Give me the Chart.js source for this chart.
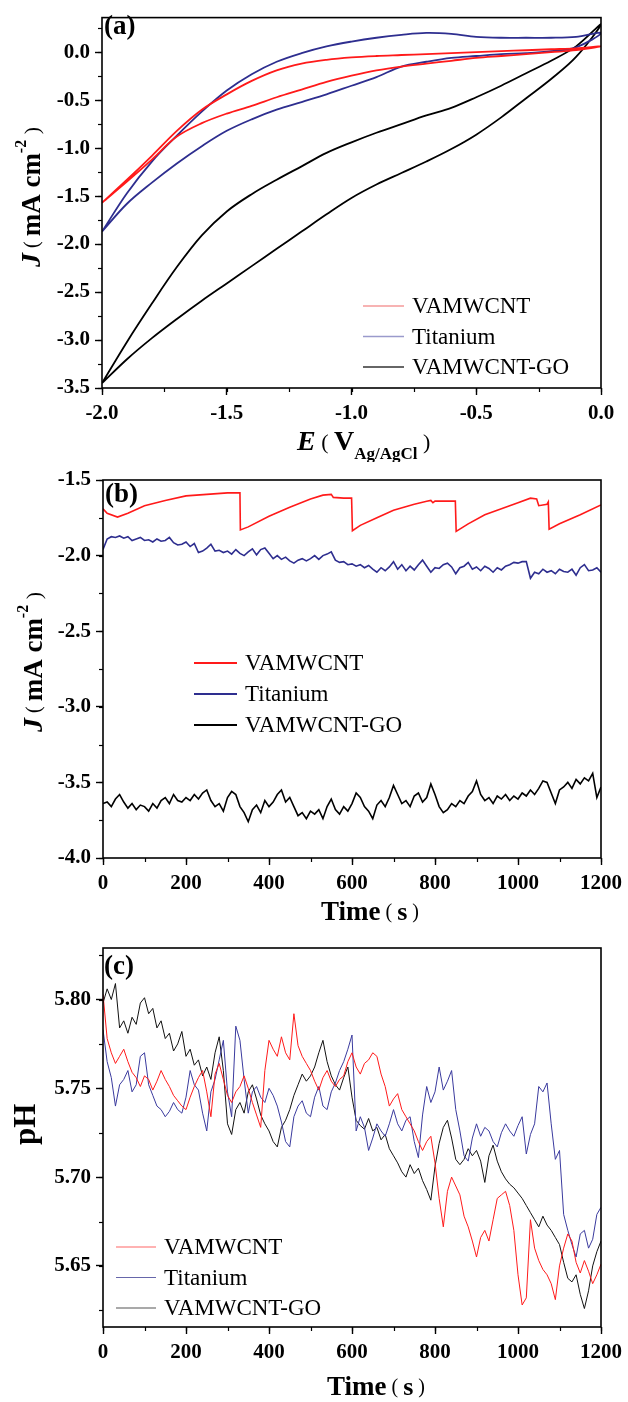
<!DOCTYPE html>
<html>
<head>
<meta charset="utf-8">
<script src="https://cdn.jsdelivr.net/npm/chart.js@4.4.0/dist/chart.umd.min.js"></script>
<style>
  body { margin: 0; background: #fff; }
  #wrap { position: relative; width: 628px; height: 1402px; }
  canvas { position: absolute; left: 0; }
</style>
</head>
<body>
<div id="wrap">
  <canvas id="cvChart" width="628" height="462" style="top:0px"></canvas>
  <canvas id="stabChart" width="628" height="463" style="top:462px"></canvas>
  <canvas id="phChart" width="628" height="477" style="top:925px"></canvas>
</div>
<script>
// ---- panel (a): cyclic voltammetry, J vs E ----
const seriesNames = ["VAMWCNT", "Titanium", "VAMWCNT-GO"];

const potential = [-2.0, -1.9, -1.8, -1.7, -1.6, -1.5, -1.4, -1.3, -1.2, -1.1, -1.0,
  -0.9, -0.8, -0.7, -0.6, -0.5, -0.4, -0.3, -0.2, -0.1, 0.0];

const cvRedUpper = [-1.57, -1.33, -1.08, -0.82, -0.60, -0.44, -0.30, -0.19, -0.12, -0.08, -0.055,
  -0.04, -0.03, -0.02, -0.01, 0.0, 0.01, 0.02, 0.03, 0.04, 0.06];
const cvRedLower = [-1.57, -1.35, -1.12, -0.88, -0.74, -0.64, -0.56, -0.47, -0.39, -0.31, -0.245,
  -0.19, -0.15, -0.12, -0.09, -0.06, -0.04, -0.02, 0.0, 0.02, 0.04];
const cvBlueUpper = [-1.87, -1.47, -1.14, -0.87, -0.62, -0.40, -0.23, -0.10, -0.01, 0.06, 0.11,
  0.15, 0.18, 0.20, 0.19, 0.16, 0.15, 0.15, 0.15, 0.16, 0.20];
const cvBlueLower = [-1.87, -1.58, -1.36, -1.16, -0.98, -0.82, -0.70, -0.60, -0.52, -0.44, -0.35,
  -0.26, -0.15, -0.10, -0.06, -0.04, -0.02, -0.01, 0.01, 0.05, 0.20];
const cvGoUpper = [-3.45, -3.02, -2.62, -2.24, -1.91, -1.66, -1.48, -1.33, -1.19, -1.05, -0.94,
  -0.84, -0.75, -0.66, -0.58, -0.47, -0.35, -0.22, -0.09, 0.06, 0.29];
const cvGoLower = [-3.45, -3.20, -2.98, -2.78, -2.59, -2.41, -2.23, -2.05, -1.87, -1.69, -1.52,
  -1.38, -1.26, -1.14, -1.01, -0.86, -0.68, -0.48, -0.28, -0.05, 0.29];

// ---- panel (b): current stability, J vs time ----
const stabRedTime = [0, 10, 35, 60, 100, 150, 200, 250, 300, 330, 331, 350, 400, 450, 500, 530, 550, 555, 580, 599,
  601, 620, 660, 700, 750, 780, 790, 795, 800, 849, 851, 880, 920, 960, 1000, 1030, 1045, 1050, 1070, 1073,
  1075, 1100, 1150, 1200];
const stabRedJ = [-1.69, -1.72, -1.745, -1.72, -1.67, -1.635, -1.605, -1.595, -1.585, -1.585, -1.83, -1.81, -1.74, -1.68, -1.625, -1.60, -1.595, -1.615, -1.62, -1.62,
  -1.835, -1.80, -1.75, -1.70, -1.66, -1.64, -1.635, -1.65, -1.64, -1.64, -1.84, -1.79, -1.73, -1.69, -1.65, -1.62, -1.625, -1.67, -1.66, -1.645,
  -1.825, -1.79, -1.73, -1.665];

const sampleTime = [0, 10, 20, 30, 40, 50, 60, 70, 80, 90,
  100, 110, 120, 130, 140, 150, 160, 170, 180, 190,
  200, 210, 220, 230, 240, 250, 260, 270, 280, 290,
  300, 310, 320, 330, 340, 350, 360, 370, 380, 390,
  400, 410, 420, 430, 440, 450, 460, 470, 480, 490,
  500, 510, 520, 530, 540, 550, 560, 570, 580, 590,
  600, 610, 620, 630, 640, 650, 660, 670, 680, 690,
  700, 710, 720, 730, 740, 750, 760, 770, 780, 790,
  800, 810, 820, 830, 840, 850, 860, 870, 880, 890,
  900, 910, 920, 930, 940, 950, 960, 970, 980, 990,
  1000, 1010, 1020, 1030, 1040, 1050, 1060, 1070, 1080, 1090,
  1100, 1110, 1120, 1130, 1140, 1150, 1160, 1170, 1180, 1190,
  1200];

const stabBlueJ = [-1.96, -1.89, -1.875, -1.88, -1.87, -1.885, -1.875, -1.9, -1.89, -1.88,
  -1.9, -1.895, -1.91, -1.89, -1.905, -1.9, -1.88, -1.915, -1.93, -1.925,
  -1.91, -1.94, -1.92, -1.98, -1.97, -1.95, -1.925, -1.97, -1.965, -1.98,
  -1.97, -1.99, -1.96, -1.985, -2.0, -1.975, -1.955, -1.995, -1.96, -1.95,
  -1.985, -2.02, -2.0, -2.025, -2.01, -2.035, -2.05, -2.03, -2.02, -2.035,
  -2.02, -2.0, -2.025, -2.0, -1.99, -1.975, -2.03, -2.045, -2.04, -2.06,
  -2.055, -2.07, -2.06, -2.08, -2.065, -2.09, -2.11, -2.08, -2.1, -2.075,
  -2.04, -2.09, -2.06, -2.1, -2.07, -2.095, -2.06, -2.03, -2.07, -2.11,
  -2.08, -2.085, -2.06, -2.05, -2.075, -2.12, -2.08, -2.07, -2.045, -2.09,
  -2.075, -2.1, -2.07, -2.085, -2.11, -2.08, -2.095, -2.07, -2.06, -2.045,
  -2.05, -2.04, -2.04, -2.15, -2.11, -2.12, -2.09, -2.11, -2.1, -2.12,
  -2.09, -2.105, -2.11, -2.09, -2.13, -2.08, -2.06, -2.1, -2.095, -2.08,
  -2.11];

const stabBlackJ = [-3.64, -3.63, -3.66, -3.61, -3.58, -3.63, -3.67, -3.64, -3.68, -3.65,
  -3.66, -3.69, -3.64, -3.67, -3.62, -3.60, -3.64, -3.58, -3.62, -3.63,
  -3.60, -3.62, -3.58, -3.61, -3.57, -3.55, -3.62, -3.66, -3.64, -3.69,
  -3.60, -3.56, -3.58, -3.66, -3.70, -3.76, -3.68, -3.65, -3.70, -3.62,
  -3.66, -3.63, -3.58, -3.55, -3.63, -3.60, -3.66, -3.72, -3.70, -3.74,
  -3.69, -3.71, -3.68, -3.74, -3.66, -3.61, -3.68, -3.71, -3.66, -3.69,
  -3.64, -3.57, -3.60, -3.66, -3.69, -3.74, -3.65, -3.62, -3.66, -3.60,
  -3.52, -3.58, -3.64, -3.62, -3.66, -3.59, -3.57, -3.63, -3.60, -3.51,
  -3.58, -3.66, -3.70, -3.68, -3.64, -3.66, -3.62, -3.64, -3.59, -3.56,
  -3.49, -3.58, -3.62, -3.60, -3.64, -3.59, -3.61, -3.58, -3.62, -3.59,
  -3.61, -3.57, -3.59, -3.55, -3.58, -3.54, -3.49, -3.50, -3.57, -3.64,
  -3.55, -3.53, -3.50, -3.54, -3.48, -3.51, -3.47, -3.49, -3.44, -3.60,
  -3.53];

// ---- panel (c): pH vs time ----
const phRed = [5.803, 5.778, 5.770, 5.764, 5.768, 5.772, 5.765, 5.759, 5.756, 5.751,
  5.757, 5.755, 5.749, 5.754, 5.760, 5.755, 5.751, 5.746, 5.743, 5.740,
  5.738, 5.745, 5.751, 5.756, 5.760, 5.748, 5.734, 5.758, 5.764, 5.755,
  5.746, 5.742, 5.748, 5.751, 5.757, 5.750, 5.742, 5.735, 5.728, 5.760,
  5.777, 5.772, 5.768, 5.779, 5.770, 5.766, 5.792, 5.774, 5.768, 5.764,
  5.760, 5.754, 5.749, 5.756, 5.760, 5.754, 5.751, 5.755, 5.757, 5.765,
  5.770, 5.762, 5.758, 5.764, 5.766, 5.770, 5.768, 5.758, 5.751, 5.740,
  5.744, 5.747, 5.738, 5.734, 5.730, 5.726, 5.720, 5.715, 5.720, 5.723,
  5.708, 5.688, 5.672, 5.692, 5.700, 5.695, 5.690, 5.678, 5.672, 5.664,
  5.655, 5.666, 5.670, 5.664, 5.676, 5.688, 5.690, 5.692, 5.684, 5.670,
  5.645, 5.628, 5.632, 5.676, 5.660, 5.653, 5.648, 5.645, 5.640, 5.631,
  5.650, 5.660, 5.668, 5.664, 5.652, 5.646, 5.653, 5.647, 5.640, 5.645,
  5.651];

const phBlue = [5.783, 5.765, 5.756, 5.740, 5.752, 5.755, 5.760, 5.748, 5.752, 5.768,
  5.770, 5.752, 5.746, 5.740, 5.738, 5.734, 5.737, 5.742, 5.738, 5.736,
  5.745, 5.760, 5.752, 5.749, 5.736, 5.726, 5.748, 5.755, 5.766, 5.777,
  5.748, 5.734, 5.785, 5.777, 5.755, 5.736, 5.748, 5.751, 5.745, 5.742,
  5.750, 5.746, 5.740, 5.731, 5.720, 5.717, 5.734, 5.740, 5.743, 5.736,
  5.734, 5.745, 5.751, 5.740, 5.738, 5.748, 5.753, 5.760, 5.765, 5.772,
  5.780, 5.726, 5.734, 5.728, 5.715, 5.722, 5.730, 5.726, 5.723, 5.730,
  5.738, 5.730, 5.726, 5.732, 5.734, 5.720, 5.711, 5.735, 5.751, 5.742,
  5.748, 5.762, 5.749, 5.754, 5.760, 5.738, 5.726, 5.712, 5.709, 5.722,
  5.730, 5.723, 5.728, 5.726, 5.720, 5.717, 5.725, 5.730, 5.726, 5.723,
  5.729, 5.734, 5.713, 5.724, 5.730, 5.751, 5.748, 5.753, 5.730, 5.710,
  5.715, 5.679, 5.670, 5.662, 5.655, 5.668, 5.670, 5.660, 5.665, 5.679,
  5.683];

const phBlack = [5.798, 5.806, 5.800, 5.809, 5.784, 5.788, 5.781, 5.790, 5.786, 5.798,
  5.801, 5.792, 5.795, 5.784, 5.788, 5.778, 5.781, 5.771, 5.775, 5.782,
  5.768, 5.772, 5.763, 5.766, 5.757, 5.762, 5.755, 5.770, 5.779, 5.760,
  5.730, 5.724, 5.738, 5.742, 5.736, 5.748, 5.752, 5.744, 5.735, 5.730,
  5.726, 5.720, 5.717, 5.728, 5.732, 5.738, 5.746, 5.752, 5.758, 5.754,
  5.757, 5.762, 5.770, 5.777, 5.765, 5.757, 5.752, 5.749, 5.756, 5.762,
  5.745, 5.732, 5.729, 5.727, 5.733, 5.726, 5.728, 5.721, 5.724, 5.716,
  5.712, 5.708, 5.703, 5.700, 5.707, 5.702, 5.705, 5.698, 5.693, 5.687,
  5.706, 5.719, 5.728, 5.732, 5.722, 5.710, 5.707, 5.710, 5.716, 5.712,
  5.715, 5.709, 5.697, 5.712, 5.718, 5.709, 5.703, 5.699, 5.696, 5.694,
  5.691, 5.688, 5.684, 5.680, 5.676, 5.672, 5.678, 5.673, 5.670, 5.666,
  5.662, 5.652, 5.643, 5.641, 5.645, 5.634, 5.626, 5.636, 5.650, 5.658,
  5.664];

const RED = "#ff1a1a";
const NAVY = "#2e2e8f";
const SERIF = '"Liberation Serif", "Times New Roman", serif';

// pair x and y arrays into points
function toPoints(xs, ys) {
  return xs.map((x, i) => ({ x: x, y: ys[i] }));
}

// a closed CV loop: forward along the upper branch, back along the lower one
function cvLoop(upper, lower) {
  const fwd = toPoints(potential, upper);
  const back = toPoints(potential, lower).reverse();
  return fwd.concat(back.slice(1));
}

// draw a run of text pieces with different fonts, optionally rotated
function drawRich(ctx, item) {
  ctx.save();
  ctx.translate(item.x, item.y);
  if (item.rotate) ctx.rotate(-Math.PI / 2);
  ctx.fillStyle = "#000";
  ctx.textBaseline = "middle";
  let pos = 0;
  item.parts.forEach(p => {
    ctx.font = p.font;
    ctx.fillText(p.text, pos, p.dy || 0);
    pos += ctx.measureText(p.text).width;
  });
  ctx.restore();
}

function framePlugin(minor) {
  return {
    id: "frame",
    afterDraw(chart) {
      const ctx = chart.ctx;
      const a = chart.chartArea;
      ctx.save();
      ctx.strokeStyle = "#000";
      ctx.lineWidth = 1.2;
      // minor ticks between the labelled ones
      const xs = chart.scales.x;
      const ys = chart.scales.y;
      for (let v = xs.min; v <= xs.max + 1e-9; v += minor.x) {
        const px = Math.round(xs.getPixelForValue(v)) + 0.5;
        ctx.beginPath();
        ctx.moveTo(px, a.bottom);
        ctx.lineTo(px, a.bottom + 4);
        ctx.stroke();
      }
      for (let v = minor.yStart; v <= ys.max + 1e-9; v += minor.y) {
        if (v < ys.min - 1e-9) continue;
        const py = Math.round(ys.getPixelForValue(v)) + 0.5;
        ctx.beginPath();
        ctx.moveTo(a.left - 4, py);
        ctx.lineTo(a.left, py);
        ctx.stroke();
      }
      ctx.lineWidth = 1.6;
      ctx.strokeRect(a.left, a.top, a.right - a.left, a.bottom - a.top);
      ctx.restore();
    }
  };
}

function legendPlugin(cfg) {
  return {
    id: "panelLegend",
    afterDraw(chart) {
      const ctx = chart.ctx;
      ctx.save();
      ctx.font = "23px " + SERIF;
      ctx.textBaseline = "middle";
      chart.data.datasets.forEach((ds, i) => {
        const y = cfg.y + i * cfg.gap;
        ctx.strokeStyle = cfg.colors[i];
        ctx.lineWidth = cfg.width;
        ctx.beginPath();
        ctx.moveTo(cfg.x, y);
        ctx.lineTo(cfg.x + cfg.len, y);
        ctx.stroke();
        ctx.fillStyle = "#000";
        ctx.fillText(ds.label, cfg.x + cfg.len + 8, y + 1);
      });
      ctx.restore();
    }
  };
}

function textPlugin(items) {
  return {
    id: "panelText",
    afterDraw(chart) {
      items.forEach(item => drawRich(chart.ctx, item));
    }
  };
}

function axis(min, max, step, digits, isX, size) {
  return {
    type: "linear",
    min: min,
    max: max,
    afterFit: scale => {
      if (isX) scale.height = size;
      else scale.width = size;
    },
    border: { display: false },
    grid: {
      drawOnChartArea: false,
      drawTicks: true,
      tickLength: 7,
      tickWidth: 1.4,
      tickColor: "#000"
    },
    ticks: {
      stepSize: step,
      includeBounds: false,
      autoSkip: false,
      maxRotation: 0,
      padding: isX ? 6 : 5,
      color: "#000",
      font: { family: SERIF, size: 21, weight: "bold" },
      callback: v => Number(v).toFixed(digits)
    }
  };
}

function baseOptions(padding) {
  return {
    responsive: false,
    maintainAspectRatio: false,
    animation: false,
    events: [],
    layout: { padding: padding },
    plugins: { legend: { display: false }, tooltip: { enabled: false } },
    elements: { point: { radius: 0 } }
  };
}

function jTitle(x, y) {
  return {
    x: x, y: y, rotate: true,
    parts: [
      { text: "J", font: "italic bold 28px " + SERIF },
      { text: " ( ", font: "20px " + SERIF },
      { text: "mA cm", font: "bold 27px " + SERIF },
      { text: "-2", font: "bold 16px " + SERIF, dy: -11 },
      { text: " )", font: "22px " + SERIF }
    ]
  };
}

function timeTitle(x, y) {
  return {
    x: x, y: y,
    parts: [
      { text: "Time", font: "bold 27px " + SERIF },
      { text: " ( ", font: "20px " + SERIF },
      { text: "s", font: "bold 26px " + SERIF },
      { text: " )", font: "20px " + SERIF }
    ]
  };
}

function renderCvChart() {
  const ctx = document.getElementById("cvChart").getContext("2d");
  const options = baseOptions({ left: 0, top: 12, right: 27, bottom: 0 });
  options.scales = {
    x: axis(-2, 0, 0.5, 1, true, 74),
    y: axis(-3.5, 0.36, 0.5, 1, false, 102)
  };
  new Chart(ctx, {
    type: "scatter",
    data: {
      datasets: [
        { label: seriesNames[0], data: cvLoop(cvRedUpper, cvRedLower), borderColor: RED },
        { label: seriesNames[1], data: cvLoop(cvBlueUpper, cvBlueLower), borderColor: NAVY },
        { label: seriesNames[2], data: cvLoop(cvGoUpper, cvGoLower), borderColor: "#000" }
      ].map(ds => Object.assign(ds, { showLine: true, borderWidth: 1.8, tension: 0.35, pointRadius: 0 }))
    },
    options: options,
    plugins: [
      framePlugin({ x: 0.25, y: 0.25, yStart: -3.5 }),
      legendPlugin({ x: 363, y: 306, gap: 30.5, len: 41, width: 1.3, colors: ["#f59a9a", "#9a9acc", "#333333"] }),
      textPlugin([
        { x: 104, y: 27, parts: [{ text: "(a)", font: "bold 27px " + SERIF }] },
        jTitle(33, 267),
        {
          x: 297, y: 443,
          parts: [
            { text: "E", font: "italic bold 28px " + SERIF },
            { text: " ( ", font: "22px " + SERIF },
            { text: "V", font: "bold 28px " + SERIF },
            { text: "Ag/AgCl", font: "bold 17px " + SERIF, dy: 12 },
            { text: " )", font: "22px " + SERIF }
          ]
        }
      ])
    ]
  });
}

function renderStabilityChart() {
  const ctx = document.getElementById("stabChart").getContext("2d");
  const options = baseOptions({ left: 0, top: 18, right: 25, bottom: 0 });
  options.scales = {
    x: axis(0, 1200, 200, 0, true, 67),
    y: axis(-4, -1.5, 0.5, 1, false, 103)
  };
  new Chart(ctx, {
    type: "scatter",
    data: {
      datasets: [
        { label: seriesNames[0], data: toPoints(stabRedTime, stabRedJ), borderColor: RED },
        { label: seriesNames[1], data: toPoints(sampleTime, stabBlueJ), borderColor: NAVY },
        { label: seriesNames[2], data: toPoints(sampleTime, stabBlackJ), borderColor: "#000" }
      ].map(ds => Object.assign(ds, { showLine: true, borderWidth: 1.6, tension: 0, pointRadius: 0 }))
    },
    options: options,
    plugins: [
      framePlugin({ x: 100, y: 0.25, yStart: -4 }),
      legendPlugin({ x: 194, y: 201, gap: 31, len: 43, width: 2, colors: [RED, NAVY, "#000"] }),
      textPlugin([
        { x: 105, y: 33, parts: [{ text: "(b)", font: "bold 27px " + SERIF }] },
        jTitle(35, 270),
        timeTitle(321, 451)
      ])
    ]
  });
}

function renderPhChart() {
  const ctx = document.getElementById("phChart").getContext("2d");
  const options = baseOptions({ left: 0, top: 23, right: 25, bottom: 0 });
  options.scales = {
    x: axis(0, 1200, 200, 0, true, 75),
    y: axis(5.6156, 5.829, 0.05, 2, false, 103)
  };
  new Chart(ctx, {
    type: "scatter",
    data: {
      datasets: [
        { label: seriesNames[0], data: toPoints(sampleTime, phRed), borderColor: RED },
        { label: seriesNames[1], data: toPoints(sampleTime, phBlue), borderColor: "#3a3a9e" },
        { label: seriesNames[2], data: toPoints(sampleTime, phBlack), borderColor: "#111" }
      ].map(ds => Object.assign(ds, { showLine: true, borderWidth: 1, tension: 0, pointRadius: 0 }))
    },
    options: options,
    plugins: [
      framePlugin({ x: 100, y: 0.025, yStart: 5.625 }),
      legendPlugin({ x: 116, y: 322, gap: 30.5, len: 40, width: 1.2, colors: ["#ff6666", "#6666aa", "#555555"] }),
      textPlugin([
        { x: 104, y: 42, parts: [{ text: "(c)", font: "bold 27px " + SERIF }] },
        { x: 27, y: 220, rotate: true, parts: [{ text: "pH", font: "bold 31px " + SERIF }] },
        timeTitle(327, 463)
      ])
    ]
  });
}

renderCvChart();
renderStabilityChart();
renderPhChart();
</script>
</body>
</html>
